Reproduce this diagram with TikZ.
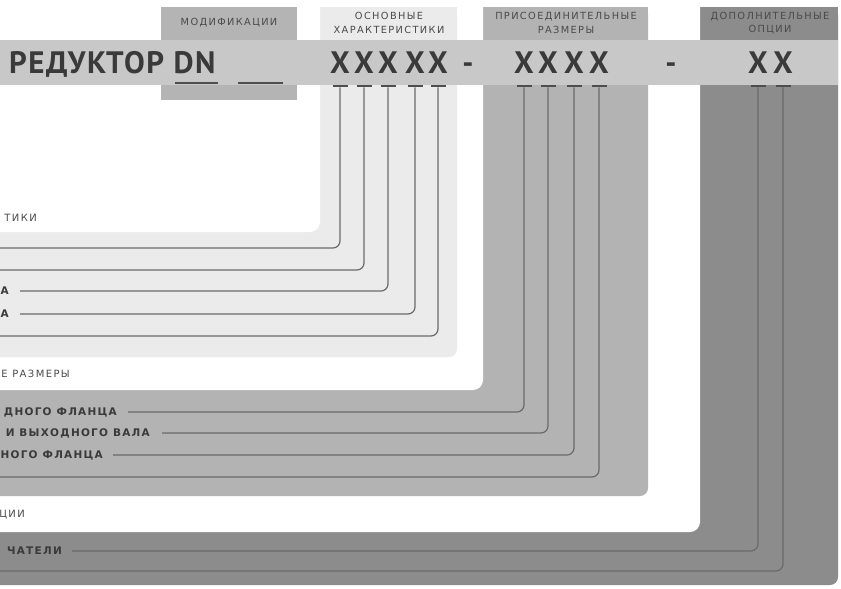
\documentclass[tikz,border=0pt]{standalone}
\usepackage{fontspec}
\setmainfont{PT Sans}
\newfontfamily\titlefont{PT Sans}[LetterSpace=5]
\newfontfamily\hdrfont{DejaVu Sans}[LetterSpace=14]
\newfontfamily\labfont{DejaVu Sans}[LetterSpace=12]
\definecolor{darkreg}{HTML}{8C8C8C}
\definecolor{midreg}{HTML}{B3B3B3}
\definecolor{lightreg}{HTML}{EBEBEB}
\definecolor{barc}{HTML}{C8C8C8}
\definecolor{modbox}{HTML}{B4B4B4}
\definecolor{linec}{HTML}{6A6A6A}
\definecolor{txtc}{HTML}{3A3A3A}
\definecolor{hdrc}{HTML}{4A4A4A}
\tikzset{
  conn/.style={draw=linec, line width=1.2pt, rounded corners=7pt},
  usc/.style={fill=txtc!90, minimum width=15pt, minimum height=2.2pt, inner sep=0pt},
  bigx/.style={font=\fontsize{31}{31}\selectfont\bfseries, text=txtc, inner sep=0pt, anchor=base},
  hdr/.style={font=\hdrfont\fontsize{9.8}{13.5}\selectfont, text=hdrc, align=center, inner sep=0pt},
  lightlab/.style={font=\hdrfont\fontsize{10}{10}\selectfont, text=hdrc, inner sep=0pt, anchor=east},
  boldlab/.style={font=\labfont\bfseries\fontsize{10.5}{11}\selectfont, text=txtc, inner sep=0pt, anchor=east}
}
\begin{document}
\begin{tikzpicture}[x=1pt,y=-1pt]
\useasboundingbox (0,0) rectangle (841,589);
\clip (0,0) rectangle (841,589);
\fill[white] (0,0) rectangle (841,589);
% nested regions (square tops, rounded bottom-right corners)
\fill[darkreg, rounded corners=8pt] (-20,7) rectangle (838,585);
\fill[darkreg] (600,7) rectangle (838,40);
\fill[white, rounded corners=10pt] (-20,-20) rectangle (700,532);
\fill[midreg, rounded corners=8pt] (-20,7) rectangle (648,496);
\fill[midreg] (400,7) rectangle (648,40);
\fill[white, rounded corners=10pt] (-20,-20) rectangle (483,390);
\fill[lightreg, rounded corners=8pt] (-20,7) rectangle (457,357);
\fill[lightreg] (300,7) rectangle (457,40);
\fill[white, rounded corners=10pt] (-20,-20) rectangle (320,232);
\fill[modbox] (161,7) rectangle (297,100);
% bar
\fill[barc] (0,40) rectangle (838,85);
% headers
\node[hdr] (hmod) at (229,23) {МОДИФИКАЦИИ};
\node[hdr] (hosn) at (389,23) {ОСНОВНЫЕ\\ХАРАКТЕРИСТИКИ};
\node[hdr] (hpri) at (566,23) {ПРИСОЕДИНИТЕЛЬНЫЕ\\РАЗМЕРЫ};
\node[hdr] (hdop) at (770,23) {ДОПОЛНИТЕЛЬНЫЕ\\ОПЦИИ};
% title
\node[bigx, anchor=base west, font=\titlefont\fontsize{31}{31}\selectfont\bfseries] (title) at (9,73) {РЕДУКТОР DN};
\node[usc, minimum width=43pt, minimum height=1.6pt] (dn1) at (196.5,83) {};
\node[usc, minimum width=45pt, minimum height=1.6pt] (dn2) at (260.5,83) {};
% X letters and underscores
\foreach \n/\x in {1/340,2/364,3/388,4/415,5/438,6/524,7/548,8/574,9/599,10/758,11/783}{
  \node[bigx] (x\n) at (\x,73) {X};
  \node[usc] (u\n) at (\x,86) {};
}
\node[bigx] (d1) at (468,73) {-};
\node[bigx] (d2) at (671,73) {-};
% labels
\node[lightlab] (t1) at (37,218) {ТИКИ};
\node[boldlab] (l3) at (9,291) {А};
\node[boldlab] (l4) at (9,314) {А};
\node[lightlab] (t2) at (70,374) {Е РАЗМЕРЫ};
\node[boldlab] (l6) at (117,412) {ДНОГО ФЛАНЦА};
\node[boldlab] (l7) at (150,433) {И ВЫХОДНОГО ВАЛА};
\node[boldlab] (l8) at (103,455) {НОГО ФЛАНЦА};
\node[lightlab] (t3) at (25,515) {ЦИИ};
\node[boldlab] (l10) at (62,551) {ЧАТЕЛИ};
% free ends
\coordinate (e1) at (-2,248);
\coordinate (e2) at (-2,270);
\coordinate (e5) at (-2,336);
\coordinate (e9) at (-2,477);
\coordinate (e11) at (-2,571);
% connectors
\draw[conn] (u1.south) |- (e1);
\draw[conn] (u2.south) |- (e2);
\draw[conn] (u3.south) |- ([xshift=11pt]l3.east);
\draw[conn] (u4.south) |- ([xshift=11pt]l4.east);
\draw[conn] (u5.south) |- (e5);
\draw[conn] (u6.south) |- ([xshift=11pt]l6.east);
\draw[conn] (u7.south) |- ([xshift=12pt]l7.east);
\draw[conn] (u8.south) |- ([xshift=10pt]l8.east);
\draw[conn] (u9.south) |- (e9);
\draw[conn] (u10.south) |- ([xshift=10pt]l10.east);
\draw[conn] (u11.south) |- (e11);
\end{tikzpicture}
\end{document}
